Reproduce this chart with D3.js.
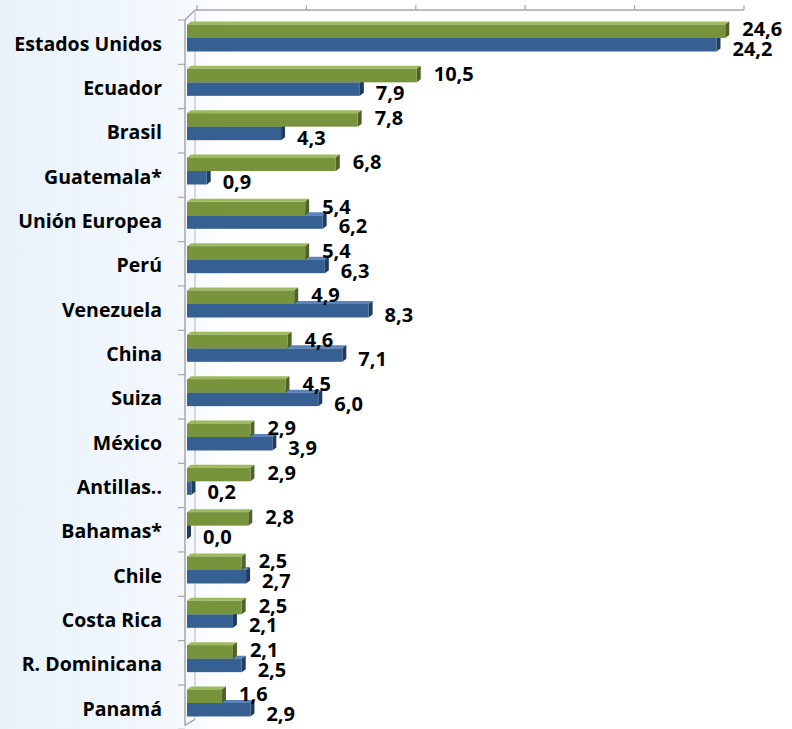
<!DOCTYPE html>
<html>
<head>
<meta charset="utf-8">
<script src="https://cdn.jsdelivr.net/npm/d3@7"></script>
<style>
  body { margin: 0; background: #fff; }
  .cat-label { font-family: "Open Sans", sans-serif; font-weight: 700; font-size: 19.5px; fill: #000; }
  .val-label { font-family: "Open Sans", sans-serif; font-weight: 700; font-size: 20px; fill: #000; }
</style>
</head>
<body>
<div id="chart"></div>
<script>
const width = 792;
const height = 729;

const categories = ["Estados Unidos", "Ecuador", "Brasil", "Guatemala*", "Unión Europea", "Perú",
  "Venezuela", "China", "Suiza", "México", "Antillas..", "Bahamas*", "Chile", "Costa Rica",
  "R. Dominicana", "Panamá"];
const greenValues = [24.6, 10.5, 7.8, 6.8, 5.4, 5.4, 4.9, 4.6, 4.5, 2.9, 2.9, 2.8, 2.5, 2.5, 2.1, 1.6];
const blueValues = [24.2, 7.9, 4.3, 0.9, 6.2, 6.3, 8.3, 7.1, 6.0, 3.9, 0.2, 0.0, 2.7, 2.1, 2.5, 2.9];
const xTicks = [0, 5, 10, 15, 20, 25];

// 3d look: back wall offset and bar depth
const wallDx = 10, wallDy = -10;
const depthX = 4, depthY = -3;
const barH = 13.5;

const green = { front: "#77933c", top: "#9dbb5e", side: "#4f6228" };
const blue = { front: "#376092", top: "#5b84bd", side: "#1f3b5f" };

const x = d3.scaleLinear().domain([0, 25]).range([187, 734]);
const y = d3.scaleBand().domain(categories).range([20, 729.3]);

const fmt = (v) => v.toFixed(1).replace(".", ",");

const svg = d3.select("#chart").append("svg")
  .attr("width", width)
  .attr("height", height);

const defs = svg.append("defs");
const grad = defs.append("linearGradient").attr("id", "bg").attr("x1", "0").attr("x2", "1").attr("y1", "0").attr("y2", "0");
grad.append("stop").attr("offset", "0").attr("stop-color", "#e8f2fb");
grad.append("stop").attr("offset", "0.22").attr("stop-color", "#f3f8fd");
grad.append("stop").attr("offset", "0.3").attr("stop-color", "#ffffff");
grad.append("stop").attr("offset", "1").attr("stop-color", "#ffffff");

svg.append("rect").attr("width", width).attr("height", height).attr("fill", "url(#bg)");

// walls
const x0 = x(0) - 2;
const yTop = y.range()[0];
const yBot = y.range()[1];
const axisColor = "#a6a6a6";

svg.append("path")
  .attr("d", `M${x0},${yTop}L${x0 + wallDx},${yTop + wallDy}L${x(25) + wallDx},${yTop + wallDy}`)
  .attr("fill", "none").attr("stroke", axisColor).attr("stroke-width", 1.5);

svg.append("line")
  .attr("x1", x0 + wallDx).attr("x2", x0 + wallDx)
  .attr("y1", yTop + wallDy).attr("y2", yBot + wallDy)
  .attr("stroke", "#bfbfbf").attr("stroke-width", 1.2);

svg.append("path")
  .attr("d", `M${x0},${yTop}L${x0},${yBot - 4}L${x0 + wallDx},${yBot + wallDy}`)
  .attr("fill", "none").attr("stroke", axisColor).attr("stroke-width", 1.5);

// top axis ticks on the back wall
svg.selectAll(".xtick").data(xTicks).join("line")
  .attr("class", "xtick")
  .attr("x1", d => x(d) + wallDx).attr("x2", d => x(d) + wallDx)
  .attr("y1", yTop + wallDy).attr("y2", yTop + wallDy - 5)
  .attr("stroke", axisColor).attr("stroke-width", 1.2);

// category ticks
const bounds = d3.range(categories.length + 1).map(i => yTop + i * y.bandwidth());
svg.selectAll(".ytick").data(bounds).join("line")
  .attr("class", "ytick")
  .attr("x1", x0 - 7).attr("x2", x0)
  .attr("y1", d => d).attr("y2", d => d)
  .attr("stroke", axisColor).attr("stroke-width", 1.2);

const bar3d = (g, ys, v, col) => {
  const xa = x(0), xb = x(v), yb = ys + barH;
  g.append("path")
    .attr("d", `M${xa},${ys}L${xa + depthX},${ys + depthY}L${xb + depthX},${ys + depthY}L${xb},${ys}Z`)
    .attr("fill", col.top);
  g.append("path")
    .attr("d", `M${xb},${ys}L${xb + depthX},${ys + depthY}L${xb + depthX},${yb + depthY}L${xb},${yb}Z`)
    .attr("fill", col.side);
  g.append("rect")
    .attr("x", xa).attr("y", ys)
    .attr("width", Math.max(0, xb - xa)).attr("height", barH)
    .attr("fill", col.front);
};

const bars = svg.append("g");
categories.forEach((c, i) => {
  const yg = y(c) + 4.5;
  const yb = yg + barH;
  bar3d(bars, yb, blueValues[i], blue);
  bar3d(bars, yg, greenValues[i], green);
});

// value labels
const labels = svg.append("g");
categories.forEach((c, i) => {
  const yg = y(c) + 4.5;
  const yb = yg + barH;
  labels.append("text")
    .attr("class", "val-label")
    .attr("x", x(greenValues[i]) + depthX + 13)
    .attr("y", yg + barH / 2 - 2)
    .attr("dy", "0.36em")
    .text(fmt(greenValues[i]));
  labels.append("text")
    .attr("class", "val-label")
    .attr("x", x(blueValues[i]) + depthX + 12)
    .attr("y", yb + barH / 2 + 4)
    .attr("dy", "0.36em")
    .text(fmt(blueValues[i]));
});

// category labels
svg.append("g").selectAll("text").data(categories).join("text")
  .attr("class", "cat-label")
  .attr("x", 162)
  .attr("y", d => y(d) + y.bandwidth() / 2 + 1.5)
  .attr("dy", "0.36em")
  .attr("text-anchor", "end")
  .text(d => d);
</script>
</body>
</html>
